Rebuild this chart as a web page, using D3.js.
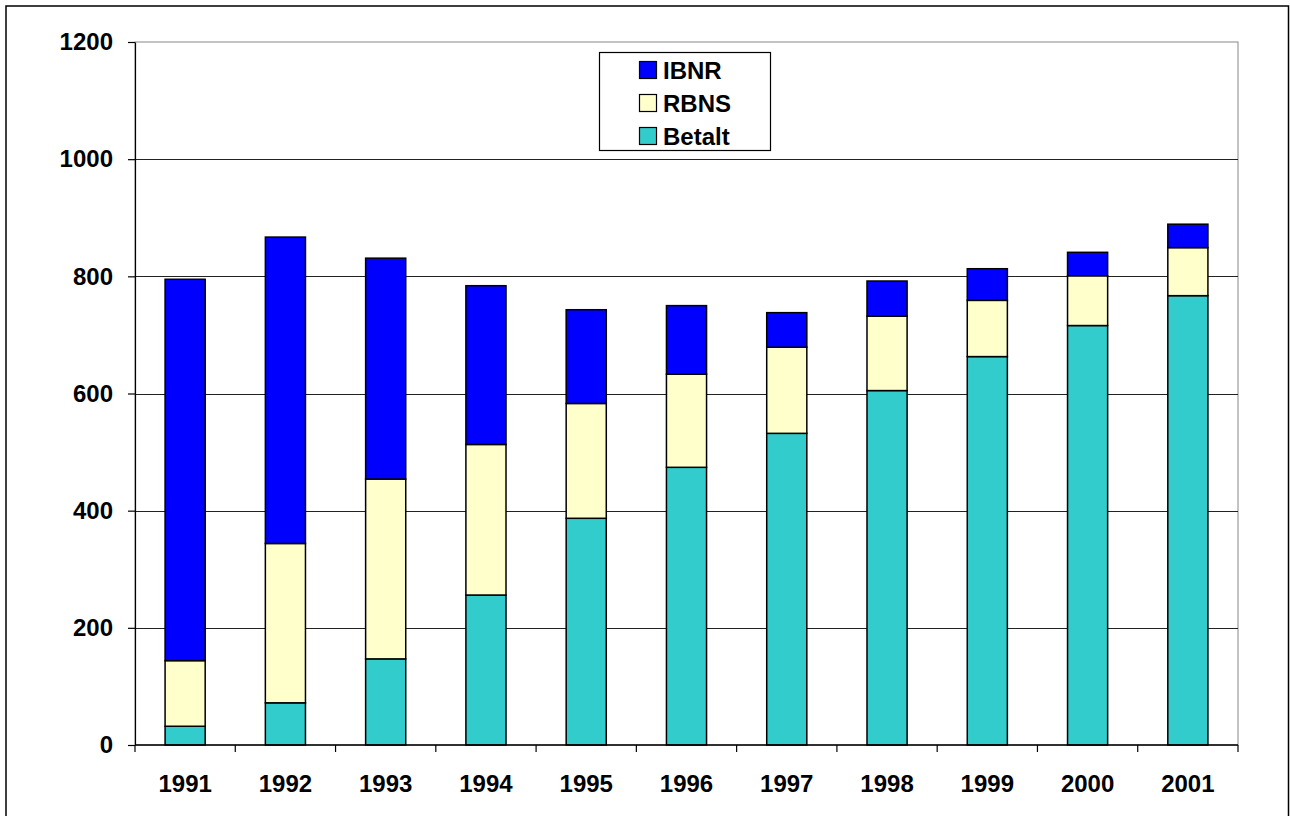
<!DOCTYPE html>
<html>
<head>
<meta charset="utf-8">
<script src="https://cdn.jsdelivr.net/npm/d3@7"></script>
<style>
  html, body { margin: 0; padding: 0; background: #fff; }
  svg { display: block; }
  text { font-family: "Liberation Sans", Arial, sans-serif; font-weight: bold; }
</style>
</head>
<body>
<svg id="chart" width="1290" height="816"></svg>
<script>
const years = ["1991","1992","1993","1994","1995","1996","1997","1998","1999","2000","2001"];
const betalt = [32, 72, 147, 256, 387, 474, 532, 605, 663, 716, 767];
const rbns   = [112, 272, 307, 257, 196, 159, 147, 127, 96, 85, 82];
const ibnr   = [651, 523, 377, 271, 160, 117, 59, 60, 54, 40, 40];
const yTicks = [0, 200, 400, 600, 800, 1000, 1200];
const seriesNames = ["Betalt", "RBNS", "IBNR"];
const seriesColors = { Betalt: "#33CCCC", RBNS: "#FFFFCC", IBNR: "#0000FF" };
const legendOrder = ["IBNR", "RBNS", "Betalt"];

const svg = d3.select("#chart");
const pLeft = 135, pRight = 1238, pTop = 42, pBottom = 745;

// outer border
svg.append("rect").attr("x", 6).attr("y", 6).attr("width", 1282.5).attr("height", 830)
  .attr("fill", "none").attr("stroke", "#000").attr("stroke-width", 1.5);

const x = d3.scaleBand().domain(years).range([pLeft, pRight]).paddingInner(0.6).paddingOuter(0.3);
const y = d3.scaleLinear().domain([0, 1200]).range([pBottom, pTop]);

// plot area border
svg.append("rect").attr("x", pLeft).attr("y", pTop).attr("width", pRight - pLeft).attr("height", pBottom - pTop)
  .attr("fill", "none").attr("stroke", "#888").attr("stroke-width", 1);

// gridlines
svg.append("g").selectAll("line").data(yTicks.filter(t => t > 0 && t < 1200)).join("line")
  .attr("x1", pLeft).attr("x2", pRight)
  .attr("y1", d => Math.round(y(d)) + 0.5).attr("y2", d => Math.round(y(d)) + 0.5)
  .attr("stroke", "#222").attr("stroke-width", 1.2);

// stacked data
const table = years.map((yr, i) => ({ year: yr, Betalt: betalt[i], RBNS: rbns[i], IBNR: ibnr[i] }));
const stack = d3.stack().keys(seriesNames)(table);

svg.append("g").selectAll("g").data(stack).join("g")
  .attr("fill", d => seriesColors[d.key])
  .selectAll("rect").data(d => d).join("rect")
  .attr("x", d => x(d.data.year))
  .attr("width", x.bandwidth())
  .attr("y", d => y(d[1]))
  .attr("height", d => y(d[0]) - y(d[1]))
  .attr("stroke", "#000").attr("stroke-width", 1.5);

// y axis
const yAxis = d3.axisLeft(y).tickValues(yTicks).tickSize(7).tickSizeOuter(0).tickPadding(15).tickFormat(d3.format("d"));
const gy = svg.append("g").attr("transform", `translate(${pLeft},0)`).call(yAxis);
gy.selectAll("text").attr("font-size", 24).attr("fill", "#000").attr("font-family", "Liberation Sans, Arial, sans-serif").attr("font-weight", "bold");
gy.selectAll("line").attr("stroke", "#000").attr("stroke-width", 1.2);
gy.select(".domain").attr("stroke", "#000").attr("stroke-width", 1.2);

// x axis line
svg.append("line").attr("x1", pLeft).attr("x2", pRight).attr("y1", pBottom).attr("y2", pBottom)
  .attr("stroke", "#000").attr("stroke-width", 1.5);

// x ticks at category boundaries
const step = x.step();
const boundaries = years.map(yr => x(yr) - x.paddingOuter() * step).concat([pRight]);
svg.append("g").selectAll("line").data(boundaries).join("line")
  .attr("x1", d => d).attr("x2", d => d).attr("y1", pBottom).attr("y2", pBottom + 7)
  .attr("stroke", "#000").attr("stroke-width", 1.2);

// x labels
svg.append("g").selectAll("text").data(years).join("text")
  .attr("x", d => x(d) + x.bandwidth() / 2)
  .attr("y", 792)
  .attr("text-anchor", "middle")
  .attr("font-size", 24).attr("fill", "#000")
  .text(d => d);

// legend
const lg = svg.append("g");
lg.append("rect").attr("x", 599.5).attr("y", 52.5).attr("width", 171).attr("height", 98)
  .attr("fill", "#fff").attr("stroke", "#000").attr("stroke-width", 1.2);
legendOrder.forEach((name, i) => {
  const cy = 70 + i * 33;
  lg.append("rect").attr("x", 639.5).attr("y", cy - 8.5).attr("width", 17).attr("height", 17)
    .attr("fill", seriesColors[name]).attr("stroke", "#000").attr("stroke-width", 1.2);
  lg.append("text").attr("x", 663).attr("y", cy + 8.5)
    .attr("font-size", 24).attr("fill", "#000").text(name);
});
</script>
</body>
</html>
